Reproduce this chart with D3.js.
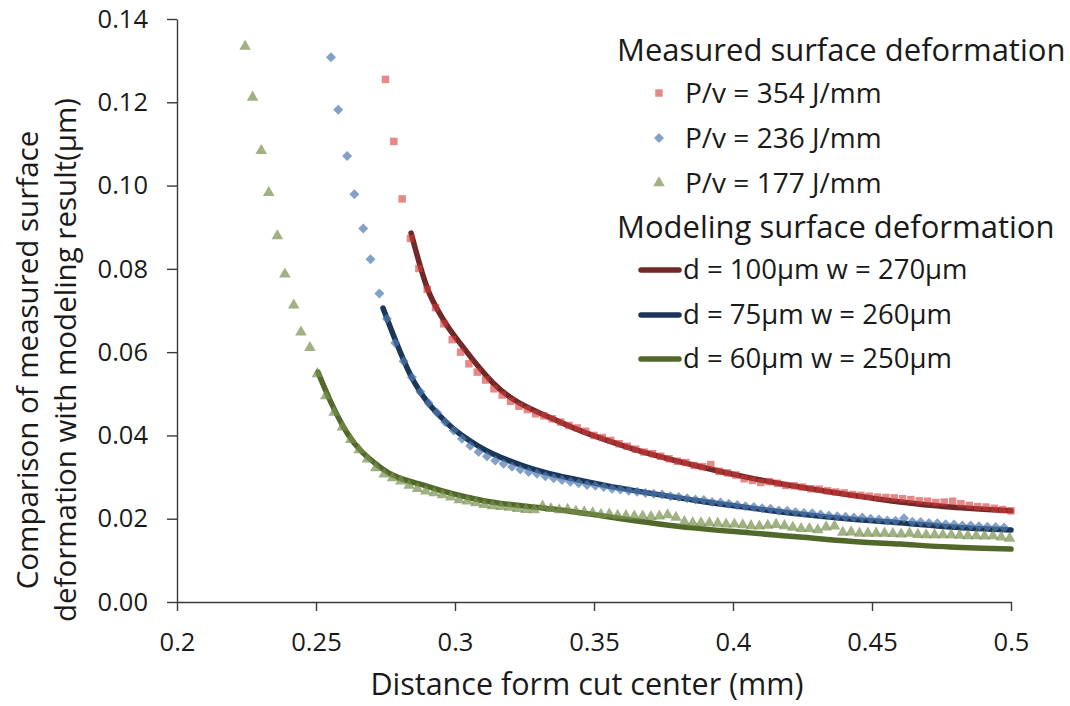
<!DOCTYPE html>
<html><head><meta charset="utf-8">
<script src="https://cdn.jsdelivr.net/npm/d3@7"></script>
<style>
body{margin:0;background:#fff}
svg{display:block}
text{font-family:"Open Sans",sans-serif;fill:#1a1a1a}
</style>
</head><body>
<svg id="chart" width="1070" height="706"></svg>
<script>
// ---------- data ----------
const xTicks = [0.2, 0.25, 0.3, 0.35, 0.4, 0.45, 0.5];
const yTicks = [0, 0.02, 0.04, 0.06, 0.08, 0.10, 0.12, 0.14];

const measuredNames = ["P/v = 354 J/mm", "P/v = 236 J/mm", "P/v = 177 J/mm"];
const modelNames = ["d = 100\u00b5m w = 270\u00b5m", "d = 75\u00b5m w = 260\u00b5m", "d = 60\u00b5m w = 250\u00b5m"];

const measured354 = [
[0.275,.1255],[0.278,.1106],[0.281,.0968],[0.284,.0873],[0.287,.0801],[0.290,.0751],[0.293,.0707],[0.296,.0668],
[0.299,.0630],[0.302,.0600],[0.305,.0572],[0.308,.0552],[0.311,.0533],[0.314,.0512],[0.317,.0497],[0.320,.0482],
[0.323,.0470],[0.326,.0462],[0.329,.0452],[0.332,.0447],[0.335,.0440],[0.338,.0432],[0.341,.0424],[0.344,.0418],
[0.347,.0410],[0.350,.0400],[0.353,.0395],[0.356,.0388],[0.359,.0380],[0.362,.0374],[0.365,.0367],[0.368,.0360],
[0.371,.0356],[0.374,.0350],[0.377,.0344],[0.380,.0338],[0.383,.0335],[0.386,.0328],[0.389,.0325],[0.392,.0330],
[0.395,.0314],[0.398,.0310],[0.401,.0305],[0.404,.0296],[0.407,.0292],[0.410,.0287],[0.413,.0289],[0.416,.0285],
[0.419,.0280],[0.422,.0279],[0.425,.0276],[0.428,.0272],[0.431,.0271],[0.434,.0267],[0.437,.0264],[0.440,.0262],
[0.443,.0258],[0.446,.0256],[0.449,.0254],[0.452,.0252],[0.455,.0251],[0.458,.0250],[0.461,.0248],[0.464,.0246],
[0.467,.0243],[0.470,.0242],[0.473,.0239],[0.476,.0240],[0.479,.0242],[0.482,.0236],[0.485,.0232],[0.488,.0229],
[0.491,.0228],[0.494,.0225],[0.497,.0222],[0.500,.0219]
];

const measured236 = [
[0.2554,.1308],[0.2580,.1182],[0.2612,.1071],[0.2638,.0979],[0.2670,.0897],[0.2696,.0823],[0.2728,.0741],
[0.2755,.0680],[0.2785,.0622],[0.2815,.0578],[0.2845,.0540],[0.2875,.0505],[0.2905,.0478],[0.2935,.0455],
[0.2965,.0432],[0.2995,.0412],[0.3025,.0392],[0.3055,.0375],[0.3085,.0360],[0.3115,.0350],[0.3145,.0340],
[0.3175,.0332],[0.3205,.0325],[0.3235,.0318],[0.3265,.0312],[0.3295,.0308],[0.3325,.0302],[0.3355,.0297],
[0.3385,.0293],[0.3415,.0289],[0.3445,.0285],[0.3475,.0281],[0.3505,.0279],[0.3535,.0276],[0.3565,.0272],
[0.3595,.0270],[0.3625,.0267],[0.3655,.0265],[0.3685,.0262],[0.3715,.0260],[0.3745,.0258],[0.3775,.0254],
[0.3805,.0252],[0.3835,.0249],[0.3865,.0246],[0.3895,.0245],[0.3925,.0240],[0.3955,.0239],[0.3985,.0236],
[0.4015,.0233],[0.4045,.0230],[0.4075,.0228],[0.4105,.0225],[0.4135,.0224],[0.4165,.0220],[0.4195,.0219],
[0.4225,.0216],[0.4255,.0214],[0.4285,.0213],[0.4315,.0210],[0.4345,.0208],[0.4375,.0206],[0.4405,.0205],
[0.4435,.0203],[0.4465,.0203],[0.4495,.0200],[0.4525,.0198],[0.4555,.0196],[0.4585,.0195],[0.4615,.0201],
[0.4645,.0193],[0.4675,.0192],[0.4705,.0190],[0.4735,.0189],[0.4765,.0187],[0.4795,.0186],[0.4825,.0184],
[0.4855,.0184],[0.4885,.0182],[0.4915,.0181],[0.4945,.0180],[0.4975,.0179]
];

const measured177 = [
[0.2245,.1334],[0.2272,.1212],[0.2303,.1084],[0.2330,.0983],[0.2361,.0879],[0.2388,.0787],[0.2420,.0713],
[0.2446,.0648],[0.2478,.0611],[0.2505,.0548],[0.2535,.0495],[0.2565,.0455],[0.2595,.0420],[0.2625,.0390],
[0.2655,.0365],[0.2685,.0343],[0.2715,.0322],[0.2745,.0307],[0.2775,.0298],[0.2805,.0290],[0.2835,.0280],
[0.2865,.0272],[0.2895,.0266],[0.2925,.0262],[0.2955,.0257],[0.2985,.0252],[0.3015,.0245],[0.3045,.0242],
[0.3075,.0238],[0.3105,.0234],[0.3135,.0231],[0.3165,.0229],[0.3195,.0227],[0.3225,.0224],[0.3255,.0222],
[0.3285,.0221],[0.3315,.0230],[0.3345,.0224],[0.3375,.0221],[0.3405,.0222],[0.3435,.0218],[0.3465,.0216],
[0.3495,.0214],[0.3525,.0210],[0.3555,.0211],[0.3585,.0208],[0.3615,.0207],[0.3645,.0206],[0.3675,.0206],
[0.3705,.0205],[0.3735,.0206],[0.3765,.0209],[0.3795,.0203],[0.3825,.0193],[0.3855,.0190],[0.3885,.0190],
[0.3915,.0190],[0.3945,.0189],[0.3975,.0187],[0.4005,.0187],[0.4035,.0185],[0.4065,.0183],[0.4095,.0182],
[0.4125,.0184],[0.4155,.0186],[0.4185,.0183],[0.4215,.0179],[0.4245,.0176],[0.4275,.0176],[0.4305,.0173],
[0.4335,.0180],[0.4365,.0182],[0.4395,.0167],[0.4425,.0168],[0.4455,.0165],[0.4485,.0165],[0.4515,.0165],
[0.4545,.0165],[0.4575,.0164],[0.4605,.0163],[0.4635,.0165],[0.4665,.0162],[0.4695,.0161],[0.4725,.0161],
[0.4755,.0161],[0.4785,.0161],[0.4815,.0160],[0.4845,.0159],[0.4875,.0159],[0.4905,.0158],[0.4935,.0159],
[0.4965,.0156],[0.4995,.0153]
];

const model100 = [
[0.2842,.0886],[0.2899,.0756],[0.2960,.0676],[0.3029,.0612],[0.3137,.0526],[0.3378,.0432],[0.3619,.0372],
[0.3856,.0329],[0.4061,.0298],[0.4241,.0276],[0.4421,.0257],[0.4601,.0240],[0.4781,.0228],[0.5000,.0219]
];
const model75 = [
[0.2741,.0706],[0.2849,.0533],[0.2971,.0430],[0.3090,.0372],[0.3259,.0324],[0.3496,.0286],[0.3856,.0245],
[0.4061,.0226],[0.4241,.0211],[0.4421,.0199],[0.4601,.0190],[0.4781,.0180],[0.5000,.0173]
];
const model60 = [
[0.2507,.0552],[0.2550,.0485],[0.2612,.0406],[0.2730,.0324],[0.2910,.0276],[0.3090,.0245],[0.3378,.0221],
[0.3856,.0178],[0.4061,.0166],[0.4241,.0156],[0.4421,.0146],[0.4601,.0139],[0.4781,.0132],[0.5000,.0127]
];

// ---------- styles ----------
const markerFill = ["#d63838", "#4f79b0", "#77904f"];
const markerOpacity = [0.6, 0.7, 0.7];
const lineColors = ["#702828", "#1c3658", "#52682a"];

// ---------- drawing ----------
const svg = d3.select("#chart");
const x = d3.scaleLinear().domain([0.2, 0.5]).range([177, 1011]);
const y = d3.scaleLinear().domain([0, 0.14]).range([602, 19]);

const xAxis = svg.append("g").attr("transform", "translate(0,602)")
  .call(d3.axisBottom(x).tickValues(xTicks).tickSize(9).tickSizeOuter(0).tickPadding(22)
    .tickFormat(d => String(+d.toFixed(2))));
const yAxis = svg.append("g").attr("transform", "translate(177,0)")
  .call(d3.axisLeft(y).tickValues(yTicks).tickSize(10).tickSizeOuter(0).tickPadding(19)
    .tickFormat(d3.format(".2f")));
[xAxis, yAxis].forEach(g => {
  g.select(".domain").attr("stroke", "#3a3a3a").attr("stroke-width", 1.4);
  g.selectAll(".tick line").attr("stroke", "#3a3a3a").attr("stroke-width", 1.4);
  g.selectAll(".tick text").attr("font-family", "Open Sans").attr("font-size", 25.5).attr("fill", "#1a1a1a");
});

// axis titles
svg.append("text").attr("x", 587).attr("y", 695).attr("text-anchor", "middle")
  .attr("font-size", 30.5).text("Distance form cut center (mm)");
const yt = svg.append("g").attr("transform", "translate(0,360) rotate(-90)");
yt.append("text").attr("x", 0).attr("y", 38).attr("text-anchor", "middle").attr("font-size", 29.5)
  .text("Comparison of measured surface");
yt.append("text").attr("x", 0).attr("y", 76).attr("text-anchor", "middle").attr("font-size", 29.5)
  .text("deformation with modeling result(\u00b5m)");

// model lines (below markers)
const line = d3.line().x(d => x(d[0])).y(d => y(d[1])).curve(d3.curveMonotoneX);
[model100, model75, model60].forEach((s, i) => {
  svg.append("path").datum(s).attr("d", line).attr("fill", "none")
    .attr("stroke", lineColors[i]).attr("stroke-width", 5.5).attr("stroke-linecap", "round");
});

// markers
const symbols = [
  {type: d3.symbolSquare, size: 56, rot: 0},
  {type: d3.symbolSquare, size: 50, rot: 45},
  {type: d3.symbolTriangle, size: 58, rot: 0}
];
[measured354, measured236, measured177].forEach((s, i) => {
  const p = d3.symbol().type(symbols[i].type).size(symbols[i].size)();
  svg.append("g").selectAll("path").data(s).join("path")
    .attr("d", p)
    .attr("transform", d => `translate(${x(d[0])},${y(d[1])}) rotate(${symbols[i].rot})`)
    .attr("fill", markerFill[i]).attr("fill-opacity", markerOpacity[i]);
});

// legend
const lg = svg.append("g");
lg.append("text").attr("x", 617).attr("y", 61).attr("font-size", 31).text("Measured surface deformation");
const itemY = [93, 138, 183];
measuredNames.forEach((n, i) => {
  const p = d3.symbol().type(symbols[i].type).size(symbols[i].size)();
  lg.append("path").attr("d", p)
    .attr("transform", `translate(659,${itemY[i]}) rotate(${symbols[i].rot})`)
    .attr("fill", markerFill[i]).attr("fill-opacity", markerOpacity[i]);
  lg.append("text").attr("x", 685).attr("y", itemY[i] + 10).attr("font-size", 28).text(n);
});
lg.append("text").attr("x", 617).attr("y", 238).attr("font-size", 31).text("Modeling surface deformation");
const lineY = [270, 315, 359];
modelNames.forEach((n, i) => {
  lg.append("line").attr("x1", 641).attr("x2", 679).attr("y1", lineY[i]).attr("y2", lineY[i])
    .attr("stroke", lineColors[i]).attr("stroke-width", 5.5).attr("stroke-linecap", "round");
  lg.append("text").attr("x", 683).attr("y", lineY[i] + 9).attr("font-size", 27.5).text(n);
});
</script>
</body></html>
